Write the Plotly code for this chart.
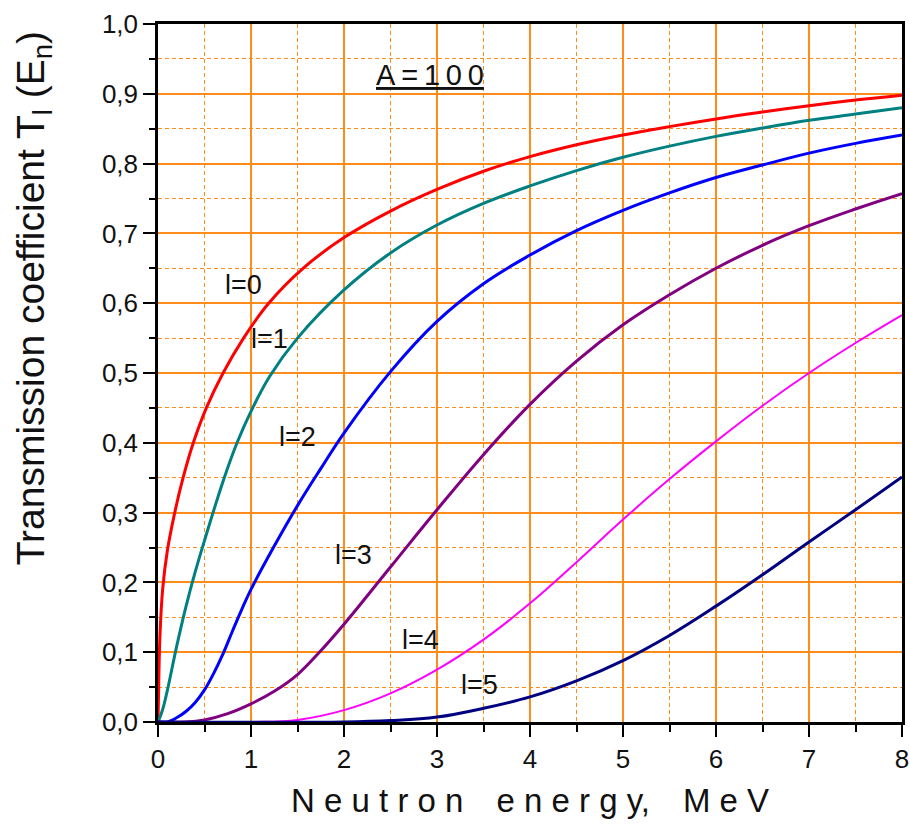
import plotly.graph_objects as go

# Neutron transmission coefficients T_l(E_n) for A=100, partial waves l=0..5
energy_l0 = [0, 0.01, 0.02, 0.05, 0.1, 0.18, 0.27, 0.38, 0.52, 0.70, 0.92, 1.19, 1.56, 2.0, 2.5, 3.0, 3.5, 4.0, 4.5, 5.0, 5.5, 6.0, 6.5, 7.0, 7.5, 8.0]
t_l0 = [0, 0.07, 0.12, 0.19, 0.245, 0.30, 0.35, 0.40, 0.45, 0.50, 0.55, 0.60, 0.65, 0.694, 0.732, 0.763, 0.789, 0.810, 0.827, 0.841, 0.853, 0.864, 0.874, 0.883, 0.891, 0.898]

energy_l1 = [0, 0.05, 0.1, 0.2, 0.3, 0.4, 0.5, 0.7, 0.85, 1.0, 1.2, 1.5, 2.0, 2.5, 3.0, 3.5, 4.0, 4.5, 5.0, 5.5, 6.0, 6.5, 7.0, 7.5, 8.0]
t_l1 = [0, 0.018, 0.045, 0.108, 0.165, 0.215, 0.26, 0.345, 0.40, 0.445, 0.495, 0.55, 0.619, 0.672, 0.712, 0.743, 0.768, 0.790, 0.809, 0.825, 0.839, 0.851, 0.862, 0.871, 0.880]

energy_l2 = [0, 0.1, 0.2, 0.3, 0.4, 0.5, 0.6, 0.7, 0.8, 0.9, 1.0, 1.25, 1.5, 1.75, 2.0, 2.5, 3.0, 3.5, 4.0, 4.5, 5.0, 5.5, 6.0, 6.5, 7.0, 7.5, 8.0]
t_l2 = [0, 0.0, 0.006, 0.015, 0.028, 0.046, 0.070, 0.098, 0.130, 0.161, 0.190, 0.252, 0.310, 0.363, 0.414, 0.502, 0.574, 0.628, 0.669, 0.704, 0.733, 0.758, 0.780, 0.798, 0.815, 0.829, 0.841]

energy_l3 = [0, 0.3, 0.5, 0.75, 1.0, 1.25, 1.5, 1.75, 2.0, 2.5, 3.0, 3.5, 4.0, 4.5, 5.0, 5.5, 6.0, 6.5, 7.0, 7.5, 8.0]
t_l3 = [0, 0.0, 0.003, 0.012, 0.026, 0.044, 0.068, 0.102, 0.140, 0.222, 0.304, 0.383, 0.455, 0.517, 0.569, 0.612, 0.650, 0.683, 0.711, 0.735, 0.757]

energy_l4 = [0, 1.0, 1.5, 2.0, 2.5, 3.0, 3.5, 4.0, 4.5, 5.0, 5.5, 6.0, 6.5, 7.0, 7.5, 8.0]
t_l4 = [0, 0.0, 0.003, 0.017, 0.041, 0.075, 0.118, 0.170, 0.229, 0.290, 0.348, 0.402, 0.453, 0.500, 0.543, 0.583]

energy_l5 = [0, 2.0, 2.5, 3.0, 3.5, 4.0, 4.5, 5.0, 5.5, 6.0, 6.5, 7.0, 7.5, 8.0]
t_l5 = [0, 0.0, 0.002, 0.007, 0.0196, 0.036, 0.059, 0.088, 0.124, 0.166, 0.211, 0.258, 0.304, 0.351]

series = [
    ("l=0", energy_l0, t_l0, "#FF0000", 3),
    ("l=1", energy_l1, t_l1, "#008080", 3),
    ("l=2", energy_l2, t_l2, "#0000FF", 3),
    ("l=3", energy_l3, t_l3, "#800080", 3),
    ("l=4", energy_l4, t_l4, "#FF00FF", 2),
    ("l=5", energy_l5, t_l5, "#000080", 3),
]

# curve labels and where they sit (energy, T)
curve_labels = ["l=0", "l=1", "l=2", "l=3", "l=4", "l=5"]
label_x = [0.92, 1.2, 1.5, 2.1, 2.82, 3.46]
label_y = [0.626, 0.549, 0.408, 0.239, 0.117, 0.053]

FONT = "Arial, Liberation Sans, sans-serif"
GRID = "#FF8C1A"
THIN = "\u2009"


def spaced(words):
    """Letter-spaced title: a space between letters (punctuation kept attached),
    an em space between words."""
    out = []
    for w in words:
        chars = []
        for ch in w:
            if ch in ",." and chars:
                chars[-1] += ch
            else:
                chars.append(ch)
        out.append(" ".join(chars))
    return "\u2003".join(out)


fig = go.Figure()
for name, xs, ys, color, width in series:
    fig.add_trace(go.Scatter(
        x=xs, y=ys, mode="lines", name=name,
        line=dict(color=color, width=width, shape="spline", smoothing=1.1),
    ))

for text, lx, ly in zip(curve_labels, label_x, label_y):
    fig.add_annotation(x=lx, y=ly, text=text, showarrow=False,
                       font=dict(family=FONT, size=27, color="#111111"))

fig.add_annotation(x=2.92, y=0.927, text="<u>" + THIN.join("A=100") + "</u>",
                   showarrow=False, font=dict(family=FONT, size=29, color="#111111"))

axis_common = dict(
    showline=True, linecolor="black", linewidth=2.5, mirror=True,
    ticks="outside", ticklen=12, tickwidth=2, tickcolor="black",
    showgrid=True, gridcolor=GRID, gridwidth=1.5, zeroline=False,
    automargin=False,
    tickfont=dict(family=FONT, size=26, color="#111111"),
)

fig.update_xaxes(
    range=[0, 8], tick0=0, dtick=1, tickformat="d",
    minor=dict(dtick=0.5, ticks="outside", ticklen=7, tickwidth=2, tickcolor="black",
               showgrid=True, gridcolor=GRID, gridwidth=1, griddash="4px,3px"),
    **axis_common,
)
fig.update_yaxes(
    range=[0, 1], tick0=0, dtick=0.1, tickformat=".1f",
    minor=dict(dtick=0.05, ticks="outside", ticklen=6, tickwidth=2, tickcolor="black",
               showgrid=True, gridcolor=GRID, gridwidth=1, griddash="4px,3px"),
    **axis_common,
)

# axis titles
fig.add_annotation(xref="paper", yref="paper", x=0.5, y=-0.112, yanchor="middle",
                   text=spaced(["Neutron", "energy,", "MeV"]), showarrow=False,
                   font=dict(family=FONT, size=33, color="#111111"))
fig.add_annotation(xref="paper", yref="paper", x=-0.168, y=0.607, xanchor="center",
                   yanchor="middle", textangle=-90,
                   text="Transmission coefficient T<sub>l</sub> (E<sub>n</sub>)",
                   showarrow=False, font=dict(family=FONT, size=39, color="#111111"))

fig.update_layout(
    width=910, height=832,
    margin=dict(l=158, r=8, t=24, b=110),
    paper_bgcolor="white", plot_bgcolor="white",
    separators=", ",
    showlegend=False,
)

fig.write_html("out.html")
